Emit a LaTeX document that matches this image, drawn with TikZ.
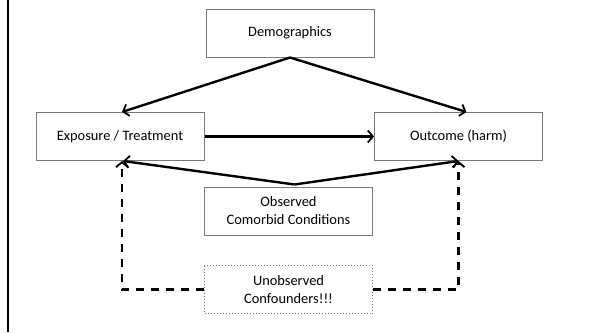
\documentclass[tikz,border=0pt]{standalone}
\usepackage{fontspec}
\setmainfont{Carlito}
\usetikzlibrary{arrows.meta}
\definecolor{boxline}{HTML}{7A7A7A}
\begin{document}
\begin{tikzpicture}[x=1pt,y=-1pt,
  box/.style={draw=boxline, line width=1pt, minimum width=168pt, minimum height=48pt,
    align=center, inner sep=0pt, font=\fontsize{14.4}{18}\selectfont},
  hidden/.style={box, dotted, line width=0.8pt},
  link/.style={line width=2.4pt, -{Straight Barb[length=5pt,width=12pt,line width=1.8pt]}},
  hiddenlink/.style={link, line width=2.8pt, dash pattern=on 8pt off 7pt}]
  \useasboundingbox (0,0) rectangle (591,332);
  \fill[white] (0,0) rectangle (591,332);
  % frame rule on the left edge
  \draw[line width=2.4pt] (8,0) -- (8,332);

  \node[box] (demo) at (290,33) {Demographics};
  \node[box] (expo) at (120,136.5) {Exposure / Treatment};
  \node[box] (outc) at (458.5,136.5) {Outcome (harm)};
  \node[box] (obs) at (288.5,211) {Observed\\Comorbid Conditions};
  \node[hidden] (unobs) at (288.5,289.5) {Unobserved\\Confounders!!!};

  \draw[link] (demo.south) -- ([xshift=2pt]expo.north);
  \draw[link] (demo.south) -- ([xshift=8pt]outc.north);
  \draw[link] (expo.east) -- (outc.west);
  \draw[link] ([xshift=6pt,yshift=2pt]obs.north) -- ([xshift=3pt]expo.south);
  \draw[link] ([xshift=6pt,yshift=2pt]obs.north) -- (outc.south);
  \draw[hiddenlink] (unobs.west) -| ([xshift=2pt]expo.south);
  \draw[hiddenlink] (unobs.east) -| (outc.south);
\end{tikzpicture}
\end{document}
